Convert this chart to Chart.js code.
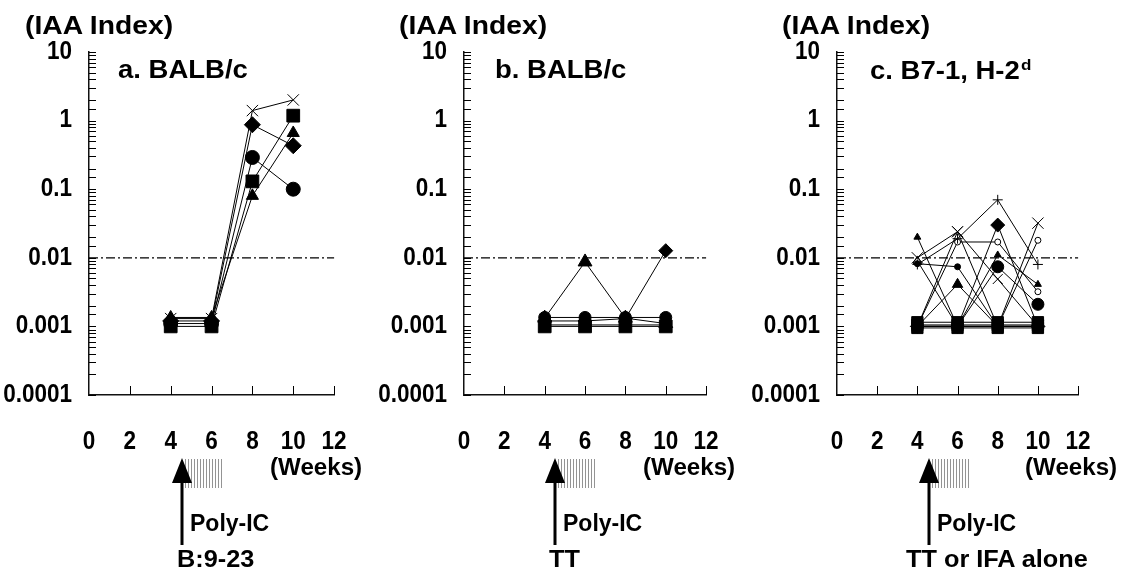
<!DOCTYPE html>
<html>
<head>
<meta charset="utf-8">
<script src="https://cdn.jsdelivr.net/npm/chart.js@4.4.1/dist/chart.umd.min.js"></script>
<style>
  html, body { margin: 0; padding: 0; background: #fff; }
  body { width: 1124px; height: 572px; position: relative; overflow: hidden; }
  canvas { position: absolute; top: 0; }
  .t { position: absolute; font-family: "Liberation Sans", Arial, sans-serif; font-weight: bold; color: #000; line-height: 1; white-space: nowrap; transform-origin: left top; }
  .t sup { font-size: 0.62em; vertical-align: 0.55em; margin-left: 1px; }
  .hatch { position: absolute; height: 29px; width: 39px;
    background: repeating-linear-gradient(90deg, rgba(0,0,0,0.42) 0 1px, transparent 1px 3px); }
  svg { position: absolute; left: 0; top: 0; }
</style>
</head>
<body>
<canvas id="ca" width="380" height="480" style="left:0px"></canvas>
<canvas id="cb" width="377" height="480" style="left:375px"></canvas>
<canvas id="cc" width="376" height="480" style="left:748px"></canvas>

<div class="t" style="left:25px;top:13px;font-size:25px;transform:scaleX(1.13)">(IAA Index)</div>
<div class="t" style="left:399px;top:13px;font-size:25px;transform:scaleX(1.13)">(IAA Index)</div>
<div class="t" style="left:782px;top:13px;font-size:25px;transform:scaleX(1.13)">(IAA Index)</div>

<div class="t" style="left:118px;top:57px;font-size:25px;transform:scaleX(1.1)">a. BALB/c</div>
<div class="t" style="left:495px;top:57px;font-size:25px;transform:scaleX(1.1)">b. BALB/c</div>
<div class="t" style="left:870px;top:57px;font-size:25px;transform:scaleX(1.1)">c. B7-1, H-2<sup>d</sup></div>

<div class="t" style="left:270px;top:456px;font-size:23px;transform:scaleX(1.05)">(Weeks)</div>
<div class="t" style="left:643px;top:456px;font-size:23px;transform:scaleX(1.05)">(Weeks)</div>
<div class="t" style="left:1025px;top:456px;font-size:23px;transform:scaleX(1.05)">(Weeks)</div>

<div class="hatch" style="left:185px;top:459px"></div>
<div class="hatch" style="left:558px;top:459px"></div>
<div class="hatch" style="left:932px;top:459px"></div>

<svg width="1124" height="572">
  <g fill="#000" stroke="none">
    <polygon points="172,483 192,483 182,458"/>
    <rect x="180.5" y="480" width="3" height="65"/>
    <polygon points="545,483 565,483 555,458"/>
    <rect x="553.5" y="480" width="3" height="65"/>
    <polygon points="919,483 939,483 929,458"/>
    <rect x="927.5" y="480" width="3" height="65"/>
  </g>
</svg>

<div class="t" style="left:190px;top:512px;font-size:23px">Poly-IC</div>
<div class="t" style="left:563px;top:512px;font-size:23px">Poly-IC</div>
<div class="t" style="left:937px;top:512px;font-size:23px">Poly-IC</div>

<div class="t" style="left:177px;top:548px;font-size:23px;transform:scaleX(1.1)">B:9-23</div>
<div class="t" style="left:549px;top:548px;font-size:23px;transform:scaleX(1.1)">TT</div>
<div class="t" style="left:906px;top:548px;font-size:23px;transform:scaleX(1.1)">TT or IFA alone</div>

<script>
// ---------- data ----------
const weeks = [4, 6, 8, 10];
const xTickLabels = ['0', '2', '4', '6', '8', '10', '12'];
const yTickLabels = ['0.0001', '0.001', '0.01', '0.1', '1', '10'];
const cutoffWeeks = [0, 12];
const cutoffValue = 0.01;

// panel a: BALB/c, B:9-23
const aCross    = [0.0013, 0.0013, 1.4, 2.0];
const aDiamond  = [0.0012, 0.0012, 0.87, 0.43];
const aCircle   = [0.0011, 0.0011, 0.29, 0.10];
const aSquare   = [0.0010, 0.0010, 0.13, 1.18];
const aTriangle = [0.00135, 0.00135, 0.08, 0.66];

// panel b: BALB/c, TT
const bCircle   = [0.00135, 0.00135, 0.00135, 0.00135];
const bTriangle = [0.00132, 0.0087, 0.00132, 0.0011];
const bDiamond  = [0.0012, 0.0012, 0.0013, 0.0127];
const bCross    = [0.00105, 0.00105, 0.00105, 0.00105];
const bSquare   = [0.0010, 0.0010, 0.0010, 0.0010];

// panel c: B7-1, H-2d, TT or IFA alone
const c1  = [0.020, 0.0010, 0.0010, 0.0010];   // small triangle
const c2  = [0.010, 0.024, 0.0010, 0.0010];    // X
const c3  = [0.0080, 0.019, 0.070, 0.0080];    // plus
const c4  = [0.0082, 0.0074, 0.0010, 0.0010];  // small dot
const c5  = [0.0010, 0.0041, 0.0010, 0.0010];  // triangle
const c6  = [0.0010, 0.0010, 0.030, 0.0010];   // diamond
const c7  = [0.0010, 0.0010, 0.0074, 0.0021];  // circle
const c8  = [0.0010, 0.0010, 0.011, 0.0041];   // small triangle
const c9  = [0.0010, 0.017, 0.017, 0.0032];    // small open circle
const c10 = [0.0010, 0.0010, 0.0010, 0.032];   // X
const c11 = [0.0010, 0.024, 0.0049, 0.0010];   // X
const c12 = [0.0010, 0.0010, 0.0010, 0.018];   // open circle
const c13 = [0.0090, 0.0010, 0.0010, 0.0010];  // open triangle
const c14 = [0.00115, 0.00115, 0.00115, 0.00115]; // square
const c15 = [0.00105, 0.00105, 0.00105, 0.00105]; // square
const c16 = [0.00095, 0.00095, 0.00095, 0.00095]; // square

// ---------- helpers ----------
const pts = vals => vals.map((v, i) => ({ x: weeks[i], y: v }));
function series(vals, style, r, fill) {
  return {
    data: pts(vals), pointStyle: style, pointRadius: r,
    pointBackgroundColor: fill || '#000', pointBorderColor: '#000', pointBorderWidth: 1,
    borderColor: '#000', borderWidth: 1, showLine: true, fill: false, tension: 0
  };
}
function cutoffSet() {
  return {
    data: cutoffWeeks.map(w => ({ x: w, y: cutoffValue })), pointRadius: 0,
    borderColor: '#000', borderWidth: 1.2, borderDash: [9, 3, 2, 3], showLine: true, fill: false
  };
}

// inward-pointing tick marks, placed by the scales
const innerTicks = {
  id: 'innerTicks',
  afterDraw(chart) {
    const { ctx, scales: { x, y }, chartArea } = chart;
    ctx.save();
    ctx.strokeStyle = '#000';
    ctx.lineWidth = 1;
    y.ticks.forEach(t => {
      const py = Math.round(y.getPixelForValue(t.value)) + 0.5;
      ctx.beginPath(); ctx.moveTo(chartArea.left, py); ctx.lineTo(chartArea.left + 7, py); ctx.stroke();
    });
    x.ticks.forEach(t => {
      if (t.value === 0) return;
      const px = Math.round(x.getPixelForValue(t.value)) + 0.5;
      ctx.beginPath(); ctx.moveTo(px, chartArea.bottom); ctx.lineTo(px, chartArea.bottom - 9); ctx.stroke();
    });
    ctx.restore();
  }
};

// draw the library's tick labels horizontally condensed (narrow bold face)
const NARROW = 0.9;
const narrowLabels = {
  id: 'narrowLabels',
  afterLayout(chart) {
    Object.values(chart.scales).forEach(s => {
      if (s._narrowed) return;
      s._narrowed = true;
      const orig = s.drawLabels;
      s.drawLabels = function (area) {
        const ctx = this.ctx;
        const rot = ctx.rotate;
        ctx.rotate = function (a) { rot.call(this, a); this.scale(NARROW, 1); };
        try { orig.call(this, area); } finally { delete ctx.rotate; }
      };
    });
  }
};

const tickFont = { family: "'Liberation Sans', Arial, sans-serif", weight: 'bold', size: 25 };

function makeChart(id, datasets, rightPad) {
  new Chart(document.getElementById(id), {
    type: 'scatter',
    data: { datasets: [cutoffSet()].concat(datasets) },
    options: {
      responsive: false, animation: false, clip: false,
      layout: { padding: { left: 0, right: rightPad, top: 52, bottom: 25 } },
      plugins: { legend: { display: false }, tooltip: { enabled: false } },
      scales: {
        x: {
          type: 'linear', min: 0, max: 12,
          afterFit: s => { s.height = 60; },
          grid: { drawOnChartArea: false, drawTicks: false },
          border: { display: true, color: '#111', width: 1.5 },
          ticks: { stepSize: 2, padding: 32, color: '#000', font: tickFont,
                   callback: v => xTickLabels[Math.round(v / 2)] }
        },
        y: {
          type: 'logarithmic', min: 0.0001, max: 10,
          afterFit: s => { s.width = 89; },
          grid: { drawOnChartArea: false, drawTicks: false },
          border: { display: true, color: '#111', width: 1.5 },
          ticks: { autoSkip: false, padding: 17, color: '#000', font: tickFont,
                   callback: v => {
                     const e = Math.log10(v);
                     return Math.abs(e - Math.round(e)) < 1e-6 ? yTickLabels[Math.round(e) + 4] : '';
                   } }
        }
      }
    },
    plugins: [innerTicks, narrowLabels]
  });
}

makeChart('ca', [
  series(aCross, 'crossRot', 8),
  series(aDiamond, 'rectRot', 8),
  series(aCircle, 'circle', 7),
  series(aSquare, 'rect', 9),
  series(aTriangle, 'triangle', 7)
], 19);

makeChart('cb', [
  series(bCircle, 'circle', 6),
  series(bTriangle, 'triangle', 8),
  series(bDiamond, 'rectRot', 7),
  series(bCross, 'crossRot', 6),
  series(bSquare, 'rect', 9)
], 19);

makeChart('cc', [
  series(c1, 'triangle', 4),
  series(c2, 'crossRot', 8),
  series(c3, 'cross', 5),
  series(c4, 'circle', 3),
  series(c5, 'triangle', 6),
  series(c6, 'rectRot', 7),
  series(c7, 'circle', 6),
  series(c8, 'triangle', 4),
  series(c9, 'circle', 3, '#fff'),
  series(c10, 'crossRot', 8),
  series(c11, 'crossRot', 7),
  series(c12, 'circle', 3, '#fff'),
  series(c13, 'triangle', 5, '#fff'),
  series(c14, 'rect', 8),
  series(c15, 'rect', 8),
  series(c16, 'rect', 8)
], 16);
</script>
</body>
</html>
